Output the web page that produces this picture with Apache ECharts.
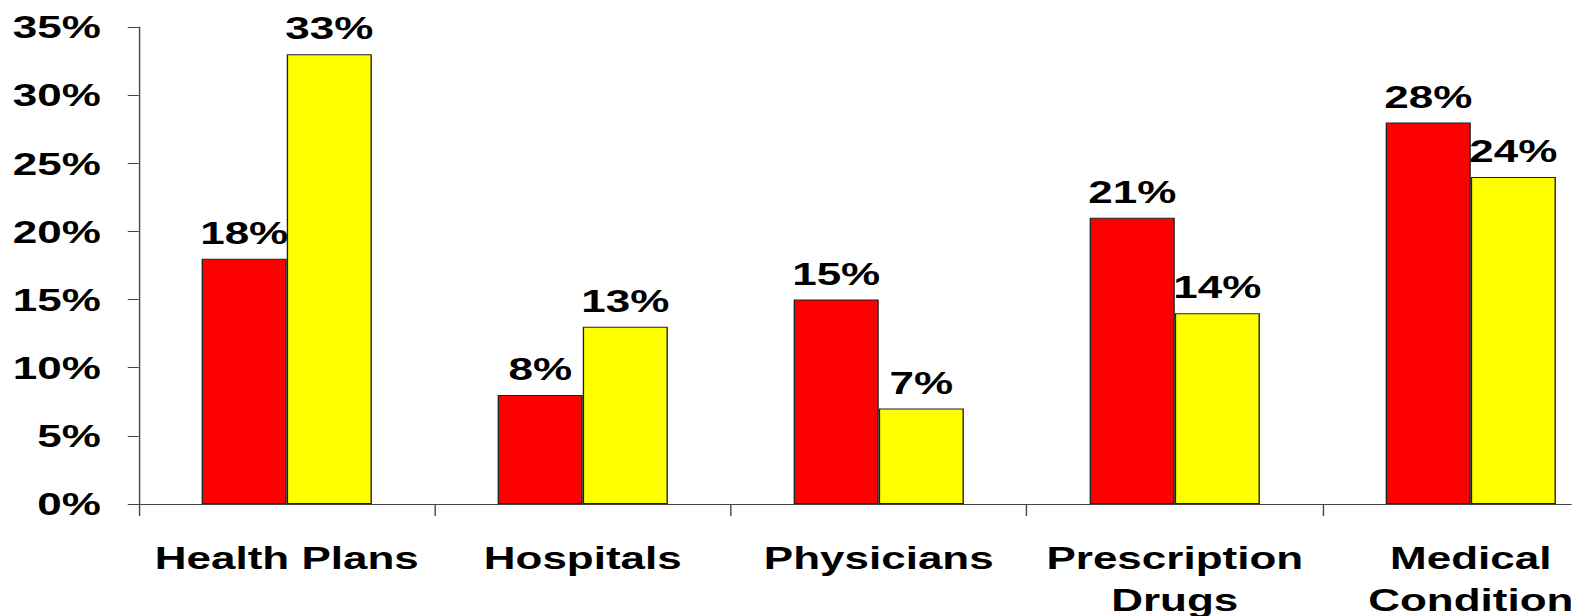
<!DOCTYPE html>
<html>
<head>
<meta charset="utf-8">
<script src="https://cdn.jsdelivr.net/npm/echarts@6/dist/echarts.min.js"></script>
<style>
  html, body { margin: 0; padding: 0; background: #fff; overflow: hidden; width: 1572px; height: 616px; }
  /* the chart is laid out narrower and stretched sideways for its wide lettering */
  #chart { width: 1143.27px; height: 616px; transform: scaleX(1.375); transform-origin: 0 0; }
</style>
</head>
<body>
<div id="chart"></div>
<script>
const categories = ['Health Plans', 'Hospitals', 'Physicians', 'Prescription\nDrugs', 'Medical\nCondition'];
const redValues = [18, 8, 15, 21, 28];
const yellowValues = [33, 13, 7, 14, 24];
const yTicks = { min: 0, max: 35, step: 5 };

const FONT = "'Liberation Sans', Arial, sans-serif";
const chart = echarts.init(document.getElementById('chart'), null, { renderer: 'svg' });

const barLabel = {
  show: true,
  position: 'top',
  distance: 10,
  formatter: p => p.value + '%',
  color: '#000',
  fontFamily: FONT,
  fontWeight: 'bold',
  fontSize: 32
};

chart.setOption({
  animation: false,
  backgroundColor: '#fff',
  grid: {
    left: 100.9,
    right: -34.3,
    top: 27,
    bottom: 112,
    containLabel: false,
    outerBoundsMode: 'none'
  },
  xAxis: {
    type: 'category',
    data: categories,
    boundaryGap: true,
    axisLine: { show: true, lineStyle: { color: '#444', width: 1 } },
    axisTick: { show: true, length: 12, lineStyle: { color: '#444' } },
    axisLabel: {
      interval: 0,
      margin: 33,
      color: '#000',
      fontFamily: FONT,
      fontWeight: 'bold',
      fontSize: 32,
      lineHeight: 42
    },
    splitLine: { show: false }
  },
  yAxis: {
    type: 'value',
    min: yTicks.min,
    max: yTicks.max,
    interval: yTicks.step,
    axisLine: { show: true, lineStyle: { color: '#444', width: 1 } },
    axisTick: { show: true, length: 8, lineStyle: { color: '#444' } },
    axisLabel: {
      margin: 27.6,
      formatter: '{value}%',
      color: '#000',
      fontFamily: FONT,
      fontWeight: 'bold',
      fontSize: 32
    },
    splitLine: { show: false }
  },
  series: [
    {
      name: 'A',
      type: 'bar',
      data: redValues,
      barGap: '0%',
      barCategoryGap: '42.5%',
      itemStyle: { color: '#ff0000', borderColor: '#222', borderWidth: 1 },
      label: barLabel
    },
    {
      name: 'B',
      type: 'bar',
      data: yellowValues,
      barGap: '0%',
      barCategoryGap: '42.5%',
      itemStyle: { color: '#ffff00', borderColor: '#222', borderWidth: 1 },
      label: barLabel
    }
  ]
});
</script>
</body>
</html>
